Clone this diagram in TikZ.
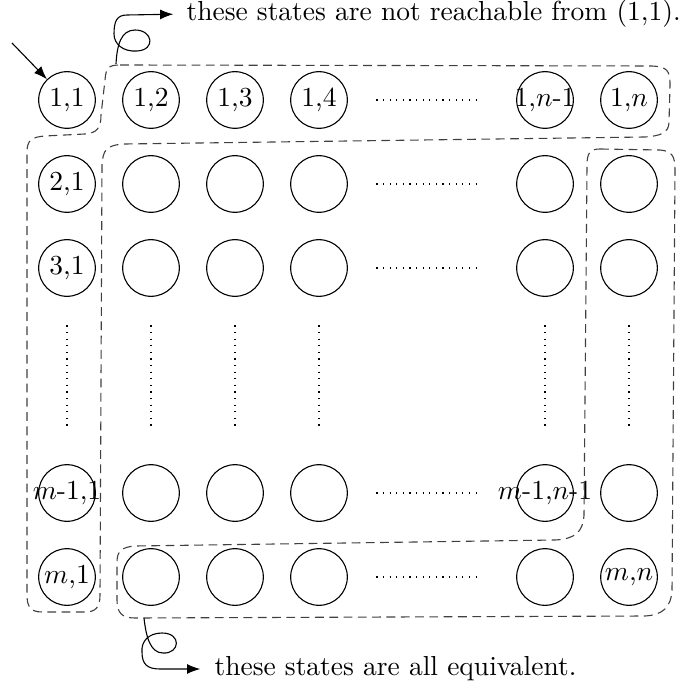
\documentclass[tikz,border=0pt]{standalone}
\usetikzlibrary{arrows.meta}
\begin{document}
\begin{tikzpicture}[x=0.3636pt,y=-0.3636pt,
  every node/.style={font=\fontsize{10}{12}\selectfont},
  cell/.style={circle,draw,minimum size=20.6pt,inner sep=0pt},
  region/.style={draw=black!75,line width=0.4pt,dash pattern=on 3.2pt off 2pt},
  dotline/.style={dotted,shorten <=10.4pt,shorten >=12.4pt},
  arr/.style={-{Latex[length=4.8pt,width=3.6pt]}},
  note/.style={anchor=west,inner sep=0pt}]
\useasboundingbox (0,0) rectangle (681,688);
% row 1
\node[cell] (r1c1) at (67,100) {\makebox[0pt]{1,1}};
\node[cell] (r1c2) at (151,100) {\makebox[0pt]{1,2}};
\node[cell] (r1c3) at (235,100) {\makebox[0pt]{1,3}};
\node[cell] (r1c4) at (319,100) {\makebox[0pt]{1,4}};
\node[cell] (r1cA) at (545,100) {\makebox[0pt]{1,$n$-1}};
\node[cell] (r1cB) at (629,100) {\makebox[0pt]{1,$n$}};
% row 2
\node[cell] (r2c1) at (67,184) {\makebox[0pt]{2,1}};
\node[cell] (r2c2) at (151,184) {};
\node[cell] (r2c3) at (235,184) {};
\node[cell] (r2c4) at (319,184) {};
\node[cell] (r2cA) at (545,184) {};
\node[cell] (r2cB) at (629,184) {};
% row 3
\node[cell] (r3c1) at (67,268) {\makebox[0pt]{3,1}};
\node[cell] (r3c2) at (151,268) {};
\node[cell] (r3c3) at (235,268) {};
\node[cell] (r3c4) at (319,268) {};
\node[cell] (r3cA) at (545,268) {};
\node[cell] (r3cB) at (629,268) {};
% row m-1
\node[cell] (rAc1) at (67,493) {\makebox[0pt]{$m$-1,1}};
\node[cell] (rAc2) at (151,493) {};
\node[cell] (rAc3) at (235,493) {};
\node[cell] (rAc4) at (319,493) {};
\node[cell] (rAcA) at (545,493) {\makebox[0pt]{$m$-1,$n$-1}};
\node[cell] (rAcB) at (629,493) {};
% row m
\node[cell] (rBc1) at (67,577) {\makebox[0pt]{$m$,1}};
\node[cell] (rBc2) at (151,577) {};
\node[cell] (rBc3) at (235,577) {};
\node[cell] (rBc4) at (319,577) {};
\node[cell] (rBcA) at (545,577) {};
\node[cell] (rBcB) at (629,577) {\makebox[0pt]{$m$,$n$}};
% dotted continuations
\foreach \r in {r1,r2,r3,rA,rB} \draw[dotline] (\r c4) -- (\r cA);
\foreach \c in {c1,c2,c3,c4,cA,cB} \draw[dotline] (r3\c) -- (rA\c);
% initial arrow
\coordinate (init) at (12,43);
\draw[arr] (init) -- (r1c1);
% region: not reachable
\draw[region] (120,65) -- (652,66) .. controls (667,67) and (670,70) .. (670,85)
  -- (669,122) .. controls (669,133) and (660,136) .. (645,137)
  -- (125,144) .. controls (106,145) and (103,150) .. (102,165)
  -- (100,595) .. controls (100,608) and (95,612) .. (85,612)
  -- (42,612) .. controls (30,612) and (27,606) .. (27,595)
  -- (27,152) .. controls (27,140) and (32,137) .. (45,136)
  -- (85,134) .. controls (97,133) and (101,128) .. (101,115)
  -- (105,80) .. controls (106,68) and (108,65) .. (120,65) -- cycle;
% region: equivalent
\draw[region] (600,149) -- (660,150) .. controls (672,151) and (675,156) .. (675,170)
  -- (672,590) .. controls (671,608) and (662,615) .. (645,616)
  -- (135,618) .. controls (122,618) and (117,613) .. (117,600)
  -- (117,562) .. controls (117,551) and (122,547) .. (135,546)
  -- (555,540) .. controls (575,539) and (583,532) .. (584,515)
  -- (587,165) .. controls (587,153) and (590,149) .. (600,149) -- cycle;
% annotations
\node[note] (tnr) at (186,14) {these states are not reachable from (1,1).};
\node[note] (teq) at (214,669) {these states are all equivalent.};
\coordinate (s1) at (116,64);
\coordinate (s2) at (144,618);
\draw[arr,shorten >=4.6pt] (s1) .. controls (117,45) and (121,30) .. (135,30)
  .. controls (153,30) and (156,50) .. (137,51)
  .. controls (123,52) and (114,44) .. (114,34)
  .. controls (114,21) and (117,15) .. (127,15) -- (tnr.west);
\draw[arr,shorten >=5pt] (s2) .. controls (146,636) and (150,653) .. (163,653)
  .. controls (180,654) and (182,633) .. (162,633)
  .. controls (148,633) and (141,642) .. (142,652)
  .. controls (142,664) and (147,669) .. (160,669) -- (teq.west);
\end{tikzpicture}
\end{document}
